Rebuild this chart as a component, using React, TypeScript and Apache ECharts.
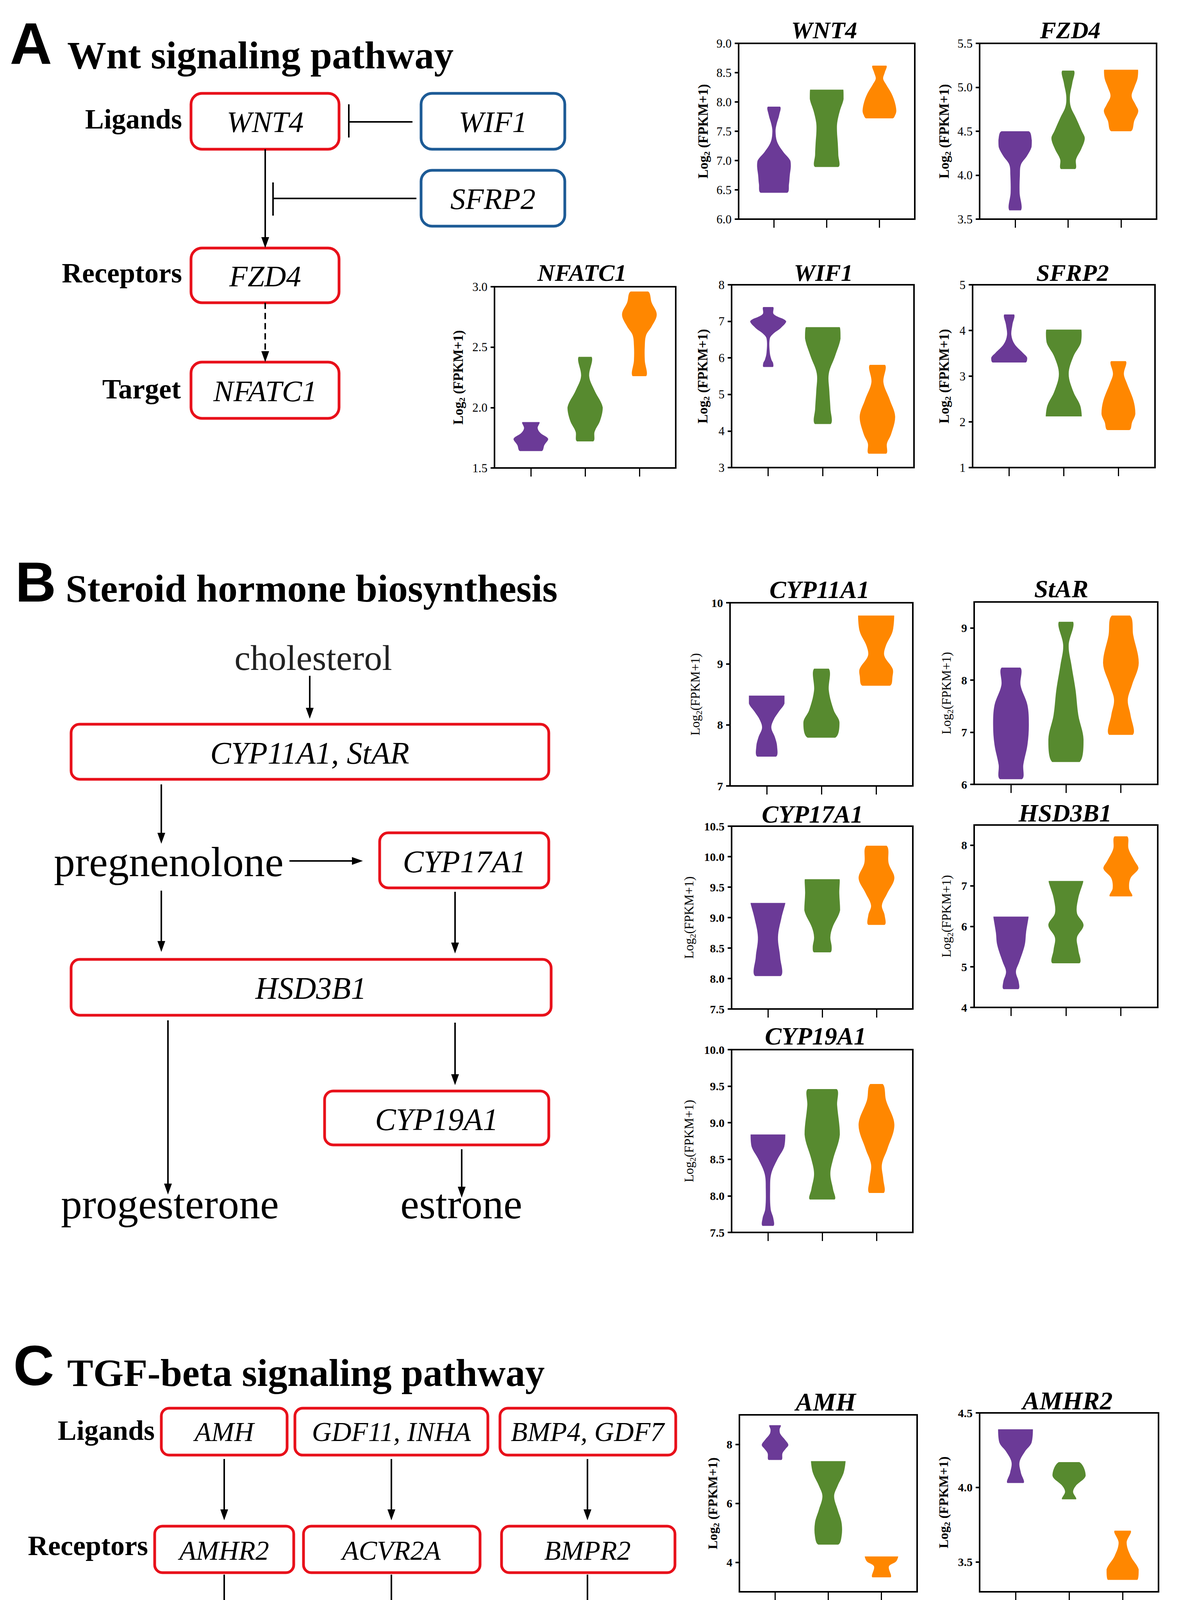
import React, { useEffect, useRef } from 'react';
import * as echarts from 'echarts';

const W = 3021;
const H = 5811;
const SERIF = '"Liberation Serif", "Times New Roman", serif';
const SANS = '"Liberation Sans", Arial, sans-serif';

// three sample groups on each violin plot (x positions) and their colours
const GROUP_POS = [1, 2, 3];
const GROUP_COLORS = ['#6b3a97', '#578a2f', '#ff8700'];

// violin profiles: [log2(FPKM+1) value, violin width as fraction of group spacing], top -> bottom
const WNT4 = [
  [[7.92, 0.23], [7.78, 0.2], [7.62, 0.1], [7.5, 0.06], [7.32, 0.12], [7.15, 0.35], [7.0, 0.62], [6.9, 0.64], [6.75, 0.6], [6.6, 0.57], [6.45, 0.5]],
  [[8.21, 0.63], [8.05, 0.64], [7.85, 0.5], [7.65, 0.4], [7.5, 0.39], [7.3, 0.42], [7.1, 0.44], [6.89, 0.44]],
  [[8.62, 0.26], [8.5, 0.2], [8.4, 0.14], [8.3, 0.25], [8.15, 0.45], [8.0, 0.58], [7.85, 0.64], [7.78, 0.6], [7.72, 0.5]],
];
const FZD4 = [
  [[4.5, 0.51], [4.4, 0.63], [4.32, 0.62], [4.22, 0.45], [4.12, 0.22], [4.0, 0.18], [3.8, 0.17], [3.6, 0.22]],
  [[5.19, 0.22], [5.05, 0.16], [4.9, 0.07], [4.78, 0.1], [4.65, 0.3], [4.5, 0.52], [4.42, 0.63], [4.3, 0.5], [4.18, 0.3], [4.07, 0.27]],
  [[5.2, 0.64], [5.1, 0.62], [5.0, 0.5], [4.9, 0.4], [4.8, 0.55], [4.73, 0.65], [4.62, 0.5], [4.5, 0.37]],
];
const NFATC1 = [
  [[1.88, 0.31], [1.83, 0.25], [1.79, 0.35], [1.74, 0.64], [1.69, 0.5], [1.64, 0.4]],
  [[2.42, 0.24], [2.26, 0.15], [2.14, 0.35], [2.0, 0.65], [1.89, 0.55], [1.8, 0.35], [1.72, 0.3]],
  [[2.96, 0.32], [2.87, 0.45], [2.77, 0.64], [2.67, 0.45], [2.6, 0.25], [2.51, 0.2], [2.39, 0.2], [2.26, 0.25]],
];
const WIF1 = [
  [[7.39, 0.18], [7.2, 0.2], [7.0, 0.66], [6.81, 0.45], [6.67, 0.2], [6.53, 0.06], [6.14, 0.06], [5.95, 0.12], [5.86, 0.18], [5.75, 0.17]],
  [[6.84, 0.62], [6.53, 0.65], [6.05, 0.45], [5.57, 0.22], [5.09, 0.24], [4.61, 0.28], [4.19, 0.29]],
  [[5.81, 0.28], [5.33, 0.22], [4.86, 0.45], [4.39, 0.65], [3.91, 0.5], [3.66, 0.35], [3.38, 0.32]],
];
const SFRP2 = [
  [[4.35, 0.18], [4.13, 0.12], [3.9, 0.08], [3.7, 0.2], [3.51, 0.5], [3.4, 0.66], [3.3, 0.6]],
  [[4.02, 0.64], [3.74, 0.63], [3.43, 0.35], [3.05, 0.18], [2.66, 0.35], [2.36, 0.6], [2.12, 0.66]],
  [[3.33, 0.27], [3.05, 0.2], [2.86, 0.3], [2.47, 0.55], [2.18, 0.62], [1.99, 0.5], [1.82, 0.4]],
];
const CYP11A1 = [
  [[8.48, 0.65], [8.35, 0.65], [8.22, 0.45], [8.08, 0.25], [7.95, 0.17], [7.8, 0.3], [7.65, 0.38], [7.48, 0.34]],
  [[8.92, 0.27], [8.56, 0.27], [8.24, 0.45], [8.04, 0.66], [7.79, 0.5]],
  [[9.79, 0.66], [9.53, 0.6], [9.29, 0.35], [9.13, 0.3], [8.92, 0.6], [8.8, 0.6], [8.64, 0.5]],
];
const STAR = [
  [[8.24, 0.34], [7.9, 0.35], [7.52, 0.6], [7.14, 0.65], [6.76, 0.6], [6.38, 0.45], [6.1, 0.4]],
  [[9.12, 0.26], [8.67, 0.1], [8.29, 0.2], [7.81, 0.35], [7.33, 0.45], [6.86, 0.64], [6.43, 0.5]],
  [[9.24, 0.33], [8.86, 0.45], [8.33, 0.65], [7.9, 0.4], [7.62, 0.25], [7.33, 0.35], [6.95, 0.43]],
];
const CYP17A1 = [
  [[9.24, 0.64], [9.0, 0.5], [8.68, 0.37], [8.35, 0.45], [8.04, 0.47]],
  [[9.63, 0.64], [9.4, 0.63], [9.12, 0.66], [8.84, 0.38], [8.68, 0.3], [8.51, 0.35], [8.43, 0.3]],
  [[10.18, 0.37], [9.89, 0.45], [9.65, 0.66], [9.4, 0.4], [9.2, 0.2], [9.04, 0.3], [8.88, 0.3]],
];
const HSD3B1 = [
  [[6.24, 0.64], [5.85, 0.55], [5.54, 0.5], [5.12, 0.3], [4.88, 0.18], [4.63, 0.28], [4.45, 0.27]],
  [[7.12, 0.63], [6.7, 0.45], [6.33, 0.4], [6.03, 0.64], [5.72, 0.4], [5.42, 0.45], [5.09, 0.49]],
  [[8.22, 0.23], [7.91, 0.28], [7.61, 0.5], [7.43, 0.64], [7.19, 0.35], [6.94, 0.3], [6.74, 0.4]],
];
const CYP19A1 = [
  [[8.84, 0.64], [8.67, 0.6], [8.5, 0.35], [8.3, 0.12], [8.09, 0.08], [7.82, 0.1], [7.69, 0.2], [7.59, 0.2]],
  [[9.46, 0.53], [9.24, 0.55], [8.84, 0.65], [8.5, 0.4], [8.3, 0.3], [8.09, 0.4], [7.95, 0.45]],
  [[9.53, 0.23], [9.31, 0.35], [8.97, 0.66], [8.64, 0.4], [8.43, 0.2], [8.23, 0.25], [8.04, 0.27]],
];
const AMH = [
  [[8.65, 0.21], [8.5, 0.17], [8.35, 0.2], [8.15, 0.38], [7.98, 0.5], [7.85, 0.4], [7.7, 0.28], [7.47, 0.24]],
  [[7.43, 0.65], [7.04, 0.58], [6.59, 0.35], [6.24, 0.22], [5.79, 0.35], [5.34, 0.5], [4.88, 0.5], [4.6, 0.37]],
  [[4.2, 0.63], [4.03, 0.55], [3.86, 0.28], [3.49, 0.34]],
];
const AMHR2 = [
  [[4.39, 0.65], [4.3, 0.6], [4.24, 0.35], [4.17, 0.15], [4.1, 0.2], [4.03, 0.3]],
  [[4.17, 0.38], [4.08, 0.62], [4.01, 0.25], [3.97, 0.15], [3.92, 0.26]],
  [[3.71, 0.3], [3.63, 0.15], [3.54, 0.3], [3.45, 0.6], [3.38, 0.55]],
];
const GDF11 = [
  [[1.33, 0.42], [1.03, 0.44], [0.88, 0.5], [0.79, 0.6], [0.7, 0.66]],
  [[2.12, 0.65], [1.96, 0.48], [1.77, 0.2], [1.59, 0.35], [1.43, 0.33], [1.29, 0.25], [1.19, 0.3]],
  [[2.38, 0.41], [2.24, 0.66], [2.11, 0.45], [2.03, 0.38], [1.96, 0.38]],
];
const INHA = [
  [[6.0, 0.59], [5.26, 0.5], [4.58, 0.6], [3.9, 0.45], [2.81, 0.35]],
  [[8.93, 0.64], [7.46, 0.4], [6.28, 0.2], [5.26, 0.5], [4.42, 0.56]],
  [[9.83, 0.24], [9.32, 0.2], [8.9, 0.62], [8.56, 0.35], [8.34, 0.36]],
];
const ACVR2A = [
  [[3.663, 0.55], [3.59, 0.66], [3.53, 0.45], [3.48, 0.15], [3.42, 0.15], [3.39, 0.18], [3.35, 0.3]],
  [[3.775, 0.6], [3.73, 0.6], [3.66, 0.4], [3.61, 0.08], [3.56, 0.2], [3.49, 0.58], [3.458, 0.6]],
  [[3.84, 0.33], [3.79, 0.25], [3.75, 0.35], [3.69, 0.63], [3.63, 0.55], [3.573, 0.6]],
];
const BMP4 = [
  [[5.115, 0.52], [4.99, 0.55], [4.89, 0.63], [4.79, 0.3], [4.74, 0.15], [4.68, 0.2], [4.63, 0.3]],
  [[5.66, 0.64], [5.49, 0.55], [5.3, 0.33], [5.12, 0.3], [4.93, 0.3], [4.745, 0.3]],
  [[5.93, 0.21], [5.81, 0.12], [5.72, 0.2], [5.62, 0.45], [5.49, 0.62], [5.4, 0.62]],
];
const GDF7 = [
  [[0.326, 0.3], [0.24, 0.2], [0.2, 0.4], [0.12, 0.63], [0.068, 0.62]],
  [[0.448, 0.21], [0.37, 0.12], [0.33, 0.3], [0.27, 0.6], [0.23, 0.25], [0.19, 0.12], [0.142, 0.2]],
  [[0.889, 0.64], [0.79, 0.5], [0.66, 0.25], [0.54, 0.25], [0.45, 0.3], [0.41, 0.35]],
];
const BMPR2 = [
  [[4.195, 0.62], [3.91, 0.6], [3.65, 0.15], [3.39, 0.45], [3.26, 0.6], [3.17, 0.62]],
  [[4.78, 0.52], [4.56, 0.55], [4.04, 0.25], [3.78, 0.2], [3.47, 0.3]],
  [[5.13, 0.23], [4.82, 0.3], [4.56, 0.52], [4.4, 0.62], [4.17, 0.4], [3.91, 0.2], [3.56, 0.25]],
];
const SMAD5 = [
  [[6.99, 0.63], [6.71, 0.62], [6.53, 0.55], [6.36, 0.3], [6.19, 0.15], [6.02, 0.15], [5.91, 0.28]],
  [[7.34, 0.51], [7.14, 0.45], [7.02, 0.2], [6.88, 0.3], [6.67, 0.65], [6.5, 0.48]],
  [[7.565, 0.23], [7.43, 0.18], [7.34, 0.35], [7.22, 0.65], [7.09, 0.4], [7.0, 0.2], [6.9, 0.23]],
];
const SMAD2Z = [
  [[7.4, 0.63], [7.13, 0.65], [6.7, 0.5], [6.36, 0.3], [6.06, 0.15], [5.85, 0.2], [5.63, 0.25]],
  [[8.87, 0.6], [8.4, 0.62], [7.98, 0.45], [7.64, 0.3], [7.13, 0.45], [6.7, 0.47], [6.35, 0.45]],
  [[9.26, 0.36], [8.96, 0.25], [8.7, 0.15], [8.4, 0.45], [8.28, 0.64], [8.15, 0.62]],
];
const ID2 = [
  [[6.38, 0.64], [6.17, 0.62], [5.95, 0.35], [5.73, 0.2], [5.52, 0.12], [5.35, 0.18], [5.24, 0.2]],
  [[7.03, 0.62], [6.71, 0.55], [6.38, 0.3], [6.23, 0.1], [6.06, 0.2], [5.91, 0.26]],
  [[7.34, 0.63], [7.19, 0.6], [7.03, 0.3], [6.86, 0.25], [6.78, 0.4], [6.7, 0.46]],
];
const ID3 = [
  [[5.29, 0.24], [5.06, 0.15], [4.84, 0.35], [4.71, 0.62], [4.58, 0.35], [4.5, 0.15], [4.39, 0.22]],
  [[5.92, 0.63], [5.49, 0.55], [5.28, 0.45], [5.06, 0.6], [4.84, 0.55], [4.63, 0.55]],
  [[6.2, 0.27], [6.03, 0.3], [5.82, 0.65], [5.67, 0.35], [5.54, 0.18], [5.36, 0.25]],
];

// y-axis tick labels
const TICKS_WNT4 = [6, 6.5, 7, 7.5, 8, 8.5, 9];
const TICKS_FZD4 = [3.5, 4, 4.5, 5, 5.5];
const TICKS_NFATC1 = [1.5, 2, 2.5, 3];
const TICKS_WIF1 = [3, 4, 5, 6, 7, 8];
const TICKS_SFRP2 = [1, 2, 3, 4, 5];
const TICKS_CYP11A1 = [7, 8, 9, 10];
const TICKS_STAR = [6, 7, 8, 9];
const TICKS_CYP17A1 = [7.5, 8, 8.5, 9, 9.5, 10, 10.5];
const TICKS_HSD3B1 = [4, 5, 6, 7, 8];
const TICKS_CYP19A1 = [7.5, 8, 8.5, 9, 9.5, 10];
const TICKS_AMH = [4, 6, 8];
const TICKS_AMHR2 = [3.5, 4, 4.5];
const TICKS_GDF11 = [0.5, 1, 1.5, 2, 2.5];
const TICKS_INHA = [2, 4, 6, 8, 10];
const TICKS_ACVR2A = [3.2, 3.4, 3.6, 3.8, 4.0];
const TICKS_BMP4 = [4.5, 5, 5.5, 6];
const TICKS_GDF7 = [0, 0.2, 0.4, 0.6, 0.8, 1.0];
const TICKS_BMPR2 = [3, 4, 5];
const TICKS_SMAD5 = [6, 6.5, 7, 7.5];
const TICKS_SMAD2Z = [5, 6, 7, 8, 9, 10];
const TICKS_ID2 = [5, 5.5, 6, 6.5, 7, 7.5];
const TICKS_ID3 = [4, 4.5, 5, 5.5, 6, 6.5];

// plot layout (pixel boxes) and axis ranges
const PLOTS = [
  { title: 'WNT4', data: WNT4, ticks: TICKS_WNT4, dec: 1, ymin: 6, ymax: 9, L: 1891, T: 111, R: 2342, B: 561, tx: 2110, ty: 77, nd: 91, st: 'a' },
  { title: 'FZD4', data: FZD4, ticks: TICKS_FZD4, dec: 1, ymin: 3.5, ymax: 5.5, L: 2508, T: 111, R: 2961, B: 561, tx: 2740, ty: 77, nd: 91, st: 'a' },
  { title: 'NFATC1', data: NFATC1, ticks: TICKS_NFATC1, dec: 1, ymin: 1.5, ymax: 3, L: 1266, T: 734, R: 1730, B: 1198, tx: 1490, ty: 698, nd: 93, st: 'a' },
  { title: 'WIF1', data: WIF1, ticks: TICKS_WIF1, dec: 0, ymin: 3, ymax: 8, L: 1873, T: 729, R: 2340, B: 1197, tx: 2108, ty: 698, nd: 74, st: 'a' },
  { title: 'SFRP2', data: SFRP2, ticks: TICKS_SFRP2, dec: 0, ymin: 1, ymax: 5, L: 2490, T: 729, R: 2957, B: 1197, tx: 2746, ty: 698, nd: 73, st: 'a' },
  { title: 'CYP11A1', data: CYP11A1, ticks: TICKS_CYP11A1, dec: 0, ymin: 7, ymax: 10, L: 1869, T: 1543, R: 2337, B: 2012, tx: 2098, ty: 1509, nd: 89, st: 'b' },
  { title: 'StAR', data: STAR, ticks: TICKS_STAR, dec: 0, ymin: 6, ymax: 9.5, L: 2494, T: 1541, R: 2964, B: 2008, tx: 2717, ty: 1507, nd: 71, st: 'b' },
  { title: 'CYP17A1', data: CYP17A1, ticks: TICKS_CYP17A1, dec: 1, ymin: 7.5, ymax: 10.5, L: 1873, T: 2115, R: 2337, B: 2583, tx: 2080, ty: 2084, nd: 109, st: 'b' },
  { title: 'HSD3B1', data: HSD3B1, ticks: TICKS_HSD3B1, dec: 0, ymin: 4, ymax: 8.5, L: 2494, T: 2112, R: 2964, B: 2579, tx: 2727, ty: 2081, nd: 71, st: 'b' },
  { title: 'CYP19A1', data: CYP19A1, ticks: TICKS_CYP19A1, dec: 1, ymin: 7.5, ymax: 10, L: 1873, T: 2687, R: 2337, B: 3155, tx: 2088, ty: 2652, nd: 109, st: 'b' },
  { title: 'AMH', data: AMH, ticks: TICKS_AMH, dec: 0, ymin: 3, ymax: 9, L: 1893, T: 3622, R: 2348, B: 4075, tx: 2114, ty: 3588, nd: 69, st: 'c' },
  { title: 'AMHR2', data: AMHR2, ticks: TICKS_AMHR2, dec: 1, ymin: 3.3, ymax: 4.5, L: 2508, T: 3617, R: 2966, B: 4075, tx: 2733, ty: 3585, nd: 93, st: 'c' },
  { title: 'GDF11', data: GDF11, ticks: TICKS_GDF11, dec: 1, ymin: 0.5, ymax: 2.5, L: 1891, T: 4166, R: 2349, B: 4623, tx: 2114, ty: 4132, nd: 95, st: 'c' },
  { title: 'INHA', data: INHA, ticks: TICKS_INHA, dec: 0, ymin: 2, ymax: 11, L: 2508, T: 4153, R: 2966, B: 4609, tx: 2733, ty: 4119, nd: 85, st: 'c' },
  { title: 'ACVR2A', data: ACVR2A, ticks: TICKS_ACVR2A, dec: 1, ymin: 3.2, ymax: 4.0, L: 640, T: 4723, R: 1098, B: 5182, tx: 870, ty: 4692, nd: 100, st: 'a' },
  { title: 'BMP4', data: BMP4, ticks: TICKS_BMP4, dec: 1, ymin: 4.5, ymax: 6, L: 1267, T: 4723, R: 1725, B: 5182, tx: 1505, ty: 4694, nd: 92, st: 'a' },
  { title: 'GDF7', data: GDF7, ticks: TICKS_GDF7, dec: 1, ymin: 0, ymax: 1, L: 1892, T: 4723, R: 2349, B: 5182, tx: 2108, ty: 4698, nd: 98, st: 'a' },
  { title: 'BMPR2', data: BMPR2, ticks: TICKS_BMPR2, dec: 0, ymin: 2.5, ymax: 5.6, L: 2510, T: 4727, R: 2965, B: 5182, tx: 2727, ty: 4700, nd: 73, st: 'a' },
  { title: 'SMAD5', data: SMAD5, ticks: TICKS_SMAD5, dec: 1, ymin: 5.7, ymax: 7.7, L: 648, T: 5288, R: 1098, B: 5740, tx: 862, ty: 5255, nd: 100, st: 'a' },
  { title: 'SMAD2Z', data: SMAD2Z, ticks: TICKS_SMAD2Z, dec: 0, ymin: 5, ymax: 10, L: 1277, T: 5288, R: 1733, B: 5746, tx: 1505, ty: 5260, nd: 86, st: 'a' },
  { title: 'ID2', data: ID2, ticks: TICKS_ID2, dec: 1, ymin: 5, ymax: 7.5, L: 1896, T: 5292, R: 2349, B: 5742, tx: 2116, ty: 5260, nd: 94, st: 'a' },
  { title: 'ID3', data: ID3, ticks: TICKS_ID3, dec: 1, ymin: 4, ymax: 6.5, L: 2514, T: 5292, R: 2968, B: 5742, tx: 2727, ty: 5260, nd: 93, st: 'a' },
];

const STYLES: any = {
  a: { label: 31, labelW: 'normal', name: 35, nameW: 'bold', title: 62, space: ' ' },
  b: { label: 30, labelW: 'bold', name: 33, nameW: 'normal', title: 64, space: '' },
  c: { label: 30, labelW: 'bold', name: 34, nameW: 'bold', title: 66, space: ' ' },
};

const RED = '#e8101a';
const BLUE = '#1d5b96';

function rbox(x: number, y: number, w: number, h: number, color = RED, r = 24) {
  return { type: 'rect', z: 10, shape: { x, y, width: w, height: h, r }, style: { fill: '#fff', stroke: color, lineWidth: 7 } };
}
function txt(text: string, x: number, y: number, size: number, opts: any = {}) {
  const align = opts.align || 'center';
  return {
    type: 'text', z: 11, x, y,
    style: {
      text, fill: opts.color || '#000', fontFamily: opts.family || SERIF, fontSize: size,
      fontWeight: opts.bold ? 'bold' : 'normal', fontStyle: opts.italic ? 'italic' : 'normal',
      align, verticalAlign: 'middle', textAlign: align, textVerticalAlign: 'middle',
    },
  };
}
function seg(x1: number, y1: number, x2: number, y2: number, dash?: number[]) {
  const style: any = { stroke: '#000', lineWidth: 4 };
  if (dash) style.lineDash = dash;
  return { type: 'line', z: 10, shape: { x1, y1, x2, y2 }, style };
}
function arrowDown(x: number, y1: number, tip: number, dash?: number[]) {
  return [
    seg(x, y1, x, tip - 22, dash),
    { type: 'polygon', z: 10, shape: { points: [[x, tip], [x - 10, tip - 28], [x + 10, tip - 28]] }, style: { fill: '#000' } },
  ];
}
function arrowRight(y: number, x1: number, tip: number) {
  return [
    seg(x1, y, tip - 22, y),
    { type: 'polygon', z: 10, shape: { points: [[tip, y], [tip - 28, y - 10], [tip - 28, y + 10]] }, style: { fill: '#000' } },
  ];
}

function buildGraphics() {
  const g: any[] = [];
  // ---- Panel A
  g.push(txt('A', 25, 111, 150, { family: SANS, bold: true, align: 'left' }));
  g.push(txt('Wnt signaling pathway', 172, 141, 100, { bold: true, align: 'left' }));
  g.push(txt('Ligands', 466, 305, 72, { bold: true, align: 'right' }));
  g.push(txt('Receptors', 466, 699, 72, { bold: true, align: 'right' }));
  g.push(txt('Target', 463, 996, 72, { bold: true, align: 'right' }));
  g.push(rbox(489, 239, 379, 143, RED, 28));
  g.push(rbox(489, 635, 379, 140, RED, 28));
  g.push(rbox(489, 927, 379, 144, RED, 28));
  g.push(rbox(1078, 239, 368, 143, BLUE, 28));
  g.push(rbox(1078, 436, 368, 143, BLUE, 28));
  g.push(txt('WNT4', 679, 312, 77, { italic: true }));
  g.push(txt('FZD4', 679, 707, 77, { italic: true }));
  g.push(txt('NFATC1', 679, 1001, 77, { italic: true }));
  g.push(txt('WIF1', 1262, 312, 77, { italic: true }));
  g.push(txt('SFRP2', 1262, 509, 77, { italic: true }));
  g.push(...arrowDown(679, 382, 635));
  g.push(...arrowDown(679, 775, 927, [16, 10]));
  g.push(seg(893, 312, 1056, 312), seg(893, 267, 893, 352));
  g.push(seg(699, 508, 1066, 508), seg(699, 467, 699, 552));

  // ---- Panel B
  g.push(txt('B', 39, 1490, 145, { family: SANS, bold: true, align: 'left' }));
  g.push(txt('Steroid hormone biosynthesis', 168, 1506, 100, { bold: true, align: 'left' }));
  g.push(txt('cholesterol', 802, 1684, 92, { color: '#222' }));
  g.push(...arrowDown(793, 1730, 1840));
  g.push(rbox(182, 1854, 1223, 141, RED, 22));
  g.push(txt('CYP11A1, StAR', 793, 1928, 80, { italic: true }));
  g.push(...arrowDown(413, 2008, 2160));
  g.push(txt('pregnenolone', 432, 2206, 108));
  g.push(...arrowRight(2204, 741, 929));
  g.push(rbox(972, 2132, 433, 141, RED, 22));
  g.push(txt('CYP17A1', 1189, 2206, 80, { italic: true }));
  g.push(...arrowDown(413, 2280, 2437));
  g.push(...arrowDown(1165, 2283, 2441));
  g.push(rbox(182, 2456, 1229, 143, RED, 22));
  g.push(txt('HSD3B1', 796, 2530, 80, { italic: true }));
  g.push(...arrowDown(430, 2612, 3058));
  g.push(...arrowDown(1165, 2618, 2778));
  g.push(rbox(831, 2793, 574, 138, RED, 22));
  g.push(txt('CYP19A1', 1118, 2866, 80, { italic: true }));
  g.push(...arrowDown(1182, 2942, 3066));
  g.push(txt('progesterone', 435, 3082, 108));
  g.push(txt('estrone', 1181, 3082, 108));

  // ---- Panel C
  g.push(txt('C', 34, 3496, 145, { family: SANS, bold: true, align: 'left' }));
  g.push(txt('TGF-beta signaling pathway', 172, 3514, 100, { bold: true, align: 'left' }));
  g.push(txt('Ligands', 396, 3662, 72, { bold: true, align: 'right' }));
  g.push(txt('Receptors', 379, 3957, 72, { bold: true, align: 'right' }));
  g.push(txt('Target', 835, 4555, 72, { bold: true, align: 'right' }));
  g.push(rbox(413, 3605, 322, 120, RED, 20), rbox(755, 3605, 494, 120, RED, 20), rbox(1280, 3605, 450, 120, RED, 20));
  g.push(txt('AMH', 574, 3665, 70, { italic: true }), txt('GDF11, INHA', 1002, 3665, 70, { italic: true }), txt('BMP4, GDF7', 1504, 3665, 70, { italic: true }));
  g.push(...arrowDown(574, 3735, 3892), ...arrowDown(1002, 3735, 3892), ...arrowDown(1504, 3735, 3892));
  g.push(rbox(396, 3907, 356, 119, RED, 20), rbox(777, 3907, 452, 119, RED, 20), rbox(1284, 3907, 444, 119, RED, 20));
  g.push(txt('AMHR2', 574, 3969, 70, { italic: true }), txt('ACVR2A', 1002, 3969, 70, { italic: true }), txt('BMPR2', 1504, 3969, 70, { italic: true }));
  g.push(...arrowDown(574, 4031, 4186), ...arrowDown(1002, 4031, 4186), ...arrowDown(1504, 4031, 4186));
  g.push(rbox(408, 4194, 1323, 119, RED, 20));
  g.push(txt('SMAD5, SMAD2Z', 1068, 4256, 68, { italic: true }));
  g.push(...arrowDown(1002, 4323, 4483));
  g.push(rbox(844, 4493, 321, 120, RED, 20));
  g.push(txt('ID2, ID3', 1004, 4555, 68, { italic: true }));

  // plot titles
  PLOTS.forEach((p) => {
    g.push(txt(p.title, p.tx, p.ty, STYLES[p.st].title, { bold: true, italic: true }));
  });
  return g;
}

function buildOption() {
  const grid: any[] = [];
  const xAxis: any[] = [];
  const yAxis: any[] = [];
  const series: any[] = [];
  PLOTS.forEach((p, i) => {
    const st = STYLES[p.st];
    grid.push({
      left: p.L, top: p.T, width: p.R - p.L, height: p.B - p.T,
      show: true, borderColor: '#000', borderWidth: 4, backgroundColor: 'transparent', containLabel: false,
    });
    xAxis.push({
      gridIndex: i, type: 'value', min: 0.33, max: 3.67,
      axisLine: { show: true, onZero: false, lineStyle: { color: '#000', width: 4 } },
      axisTick: { show: true, customValues: GROUP_POS, length: 22, lineStyle: { color: '#000', width: 3 } },
      axisLabel: { show: false },
      splitLine: { show: false },
    });
    yAxis.push({
      gridIndex: i, type: 'value', min: p.ymin, max: p.ymax,
      axisLine: { show: true, onZero: false, lineStyle: { color: '#000', width: 4 } },
      axisTick: { show: true, customValues: p.ticks, length: 10, lineStyle: { color: '#000', width: 4 } },
      axisLabel: {
        show: true, customValues: p.ticks, margin: 18,
        formatter: (v: number) => Number(v).toFixed(p.dec),
        fontFamily: SERIF, fontSize: st.label, fontWeight: st.labelW, color: '#000',
      },
      splitLine: { show: false },
      name: '{a|Log}{b|2}{a|' + st.space + '(FPKM+1)}',
      nameLocation: 'middle',
      nameGap: p.nd - 20,
      nameTextStyle: {
        rich: {
          a: { fontFamily: SERIF, fontSize: st.name, fontWeight: st.nameW, color: '#000', lineHeight: 40 },
          b: { fontFamily: SERIF, fontSize: 22, fontWeight: st.nameW, color: '#000', verticalAlign: 'bottom', lineHeight: 40 },
        },
      },
    });
    const profiles = p.data;
    series.push({
      type: 'custom', xAxisIndex: i, yAxisIndex: i, silent: true,
      data: GROUP_POS.map((x, k) => [x, k]),
      renderItem: (params: any, api: any) => {
        const k = params.dataIndex;
        const x = GROUP_POS[k];
        const prof = profiles[k];
        if (!prof) return null;
        const unit = api.size([1, 0])[0];
        const left: number[][] = [];
        const right: number[][] = [];
        let minX = Infinity, minY = Infinity, maxX = -Infinity, maxY = -Infinity;
        prof.forEach((pt: number[]) => {
          const c = api.coord([x, pt[0]]);
          const hw = (pt[1] * unit) / 2;
          left.push([c[0] - hw, c[1]]);
          right.push([c[0] + hw, c[1]]);
          minX = Math.min(minX, c[0] - hw); maxX = Math.max(maxX, c[0] + hw);
          minY = Math.min(minY, c[1]); maxY = Math.max(maxY, c[1]);
        });
        const pts = left.concat(right.reverse());
        return {
          type: 'polygon',
          shape: { points: pts, smooth: 0.35, smoothConstraint: [[minX, minY], [maxX, maxY]] },
          style: { fill: GROUP_COLORS[k] },
        };
      },
    });
  });
  return {
    animation: false,
    backgroundColor: '#fff',
    grid, xAxis, yAxis, series,
    graphic: { elements: buildGraphics() },
  };
}

export default function App() {
  const ref = useRef<HTMLDivElement>(null);
  useEffect(() => {
    if (!ref.current) return;
    document.body.style.margin = '0';
    const chart = echarts.init(ref.current, null, { renderer: 'svg', width: W, height: H });
    chart.setOption(buildOption() as any);
    return () => chart.dispose();
  }, []);
  return <div ref={ref} style={{ width: W, height: H, background: '#fff' }} />;
}
